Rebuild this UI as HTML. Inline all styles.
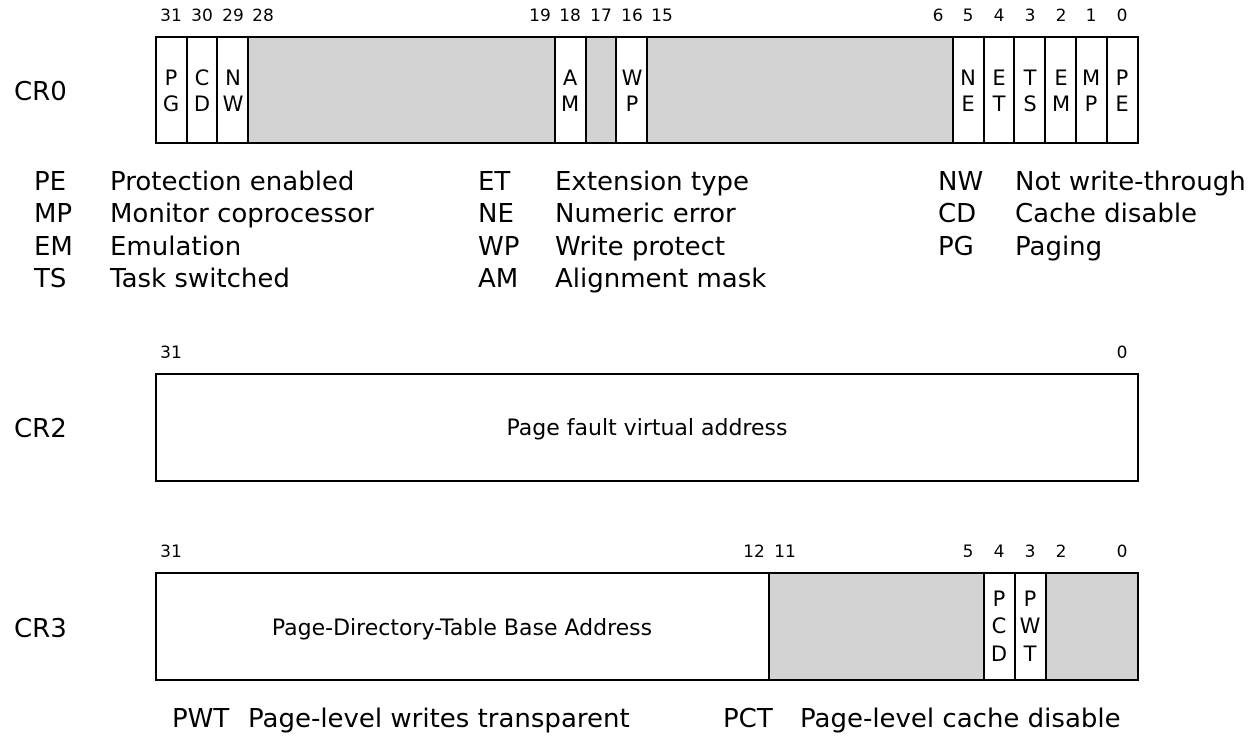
<!DOCTYPE html>
<html><head><meta charset="utf-8"><style>
html,body{margin:0;padding:0;background:#fff;}
svg{display:block;}
text{font-family:"DejaVu Sans","Liberation Sans",sans-serif;fill:#000;}
.n{font-size:17px;text-anchor:middle;}
.c{font-size:21px;text-anchor:middle;}
.t{font-size:22px;text-anchor:middle;}
.l{font-size:26px;}
.r{font-size:26px;}
</style></head><body>
<svg width="1258" height="744" viewBox="0 0 1258 744">
<!-- CR0 -->
<text class="r" x="14" y="100">CR0</text>
<rect x="156" y="37" width="982" height="106" fill="#fff" stroke="#000" stroke-width="2"/>
<rect x="248" y="38" width="307" height="104" fill="#d3d3d3"/>
<rect x="586" y="38" width="30" height="104" fill="#d3d3d3"/>
<rect x="647" y="38" width="306" height="104" fill="#d3d3d3"/>
<g stroke="#000" stroke-width="2">
<line x1="187" y1="37" x2="187" y2="143"/><line x1="217" y1="37" x2="217" y2="143"/><line x1="248" y1="37" x2="248" y2="143"/>
<line x1="555" y1="37" x2="555" y2="143"/><line x1="586" y1="37" x2="586" y2="143"/><line x1="616" y1="37" x2="616" y2="143"/><line x1="647" y1="37" x2="647" y2="143"/>
<line x1="953" y1="37" x2="953" y2="143"/><line x1="984" y1="37" x2="984" y2="143"/><line x1="1014" y1="37" x2="1014" y2="143"/><line x1="1045" y1="37" x2="1045" y2="143"/><line x1="1076" y1="37" x2="1076" y2="143"/><line x1="1107" y1="37" x2="1107" y2="143"/>
</g>
<g>
<text class="n" x="171" y="21">31</text><text class="n" x="202" y="21">30</text><text class="n" x="233" y="21">29</text><text class="n" x="263" y="21">28</text>
<text class="n" x="540" y="21">19</text><text class="n" x="570" y="21">18</text><text class="n" x="601" y="21">17</text><text class="n" x="632" y="21">16</text><text class="n" x="662" y="21">15</text>
<text class="n" x="938" y="21">6</text><text class="n" x="968" y="21">5</text><text class="n" x="999" y="21">4</text><text class="n" x="1030" y="21">3</text><text class="n" x="1061" y="21">2</text><text class="n" x="1091" y="21">1</text><text class="n" x="1122" y="21">0</text>
</g>
<g>
<text class="c" x="171" y="85">P</text><text class="c" x="171" y="111">G</text>
<text class="c" x="202" y="85">C</text><text class="c" x="202" y="111">D</text>
<text class="c" x="233" y="85">N</text><text class="c" x="233" y="111">W</text>
<text class="c" x="570" y="85">A</text><text class="c" x="570" y="111">M</text>
<text class="c" x="632" y="85">W</text><text class="c" x="632" y="111">P</text>
<text class="c" x="968" y="85">N</text><text class="c" x="968" y="111">E</text>
<text class="c" x="999" y="85">E</text><text class="c" x="999" y="111">T</text>
<text class="c" x="1030" y="85">T</text><text class="c" x="1030" y="111">S</text>
<text class="c" x="1061" y="85">E</text><text class="c" x="1061" y="111">M</text>
<text class="c" x="1091" y="85">M</text><text class="c" x="1091" y="111">P</text>
<text class="c" x="1122" y="85">P</text><text class="c" x="1122" y="111">E</text>
</g>
<!-- legend -->
<g>
<text class="l" x="34" y="190">PE</text><text class="l" x="110" y="190">Protection enabled</text>
<text class="l" x="34" y="222">MP</text><text class="l" x="110" y="222">Monitor coprocessor</text>
<text class="l" x="34" y="255">EM</text><text class="l" x="110" y="255">Emulation</text>
<text class="l" x="34" y="287">TS</text><text class="l" x="110" y="287">Task switched</text>
<text class="l" x="478" y="190">ET</text><text class="l" x="555" y="190">Extension type</text>
<text class="l" x="478" y="222">NE</text><text class="l" x="555" y="222">Numeric error</text>
<text class="l" x="478" y="255">WP</text><text class="l" x="555" y="255">Write protect</text>
<text class="l" x="478" y="287">AM</text><text class="l" x="555" y="287">Alignment mask</text>
<text class="l" x="938" y="190">NW</text><text class="l" x="1015" y="190">Not write-through</text>
<text class="l" x="938" y="222">CD</text><text class="l" x="1015" y="222">Cache disable</text>
<text class="l" x="938" y="255">PG</text><text class="l" x="1015" y="255">Paging</text>
</g>
<!-- CR2 -->
<text class="r" x="14" y="437">CR2</text>
<text class="n" x="171" y="358">31</text><text class="n" x="1122" y="358">0</text>
<rect x="156" y="374" width="982" height="107" fill="#fff" stroke="#000" stroke-width="2"/>
<text class="t" x="647" y="435">Page fault virtual address</text>
<!-- CR3 -->
<text class="r" x="14" y="637">CR3</text>
<text class="n" x="171" y="557">31</text><text class="n" x="754" y="557">12</text><text class="n" x="785" y="557">11</text>
<text class="n" x="968" y="557">5</text><text class="n" x="999" y="557">4</text><text class="n" x="1030" y="557">3</text><text class="n" x="1061" y="557">2</text><text class="n" x="1122" y="557">0</text>
<rect x="156" y="573" width="982" height="107" fill="#fff" stroke="#000" stroke-width="2"/>
<rect x="769" y="574" width="215" height="105" fill="#d3d3d3"/>
<rect x="1046" y="574" width="91" height="105" fill="#d3d3d3"/>
<g stroke="#000" stroke-width="2">
<line x1="769" y1="573" x2="769" y2="680"/><line x1="984" y1="573" x2="984" y2="680"/><line x1="1015" y1="573" x2="1015" y2="680"/><line x1="1046" y1="573" x2="1046" y2="680"/>
</g>
<text class="t" x="462" y="635">Page-Directory-Table Base Address</text>
<text class="c" x="999" y="606">P</text><text class="c" x="999" y="633">C</text><text class="c" x="999" y="661">D</text>
<text class="c" x="1030" y="606">P</text><text class="c" x="1030" y="633">W</text><text class="c" x="1030" y="661">T</text>
<text class="l" x="172" y="727">PWT</text><text class="l" x="248" y="727">Page-level writes transparent</text>
<text class="l" x="723" y="727">PCT</text><text class="l" x="800" y="727">Page-level cache disable</text>
</svg>
</body></html>
